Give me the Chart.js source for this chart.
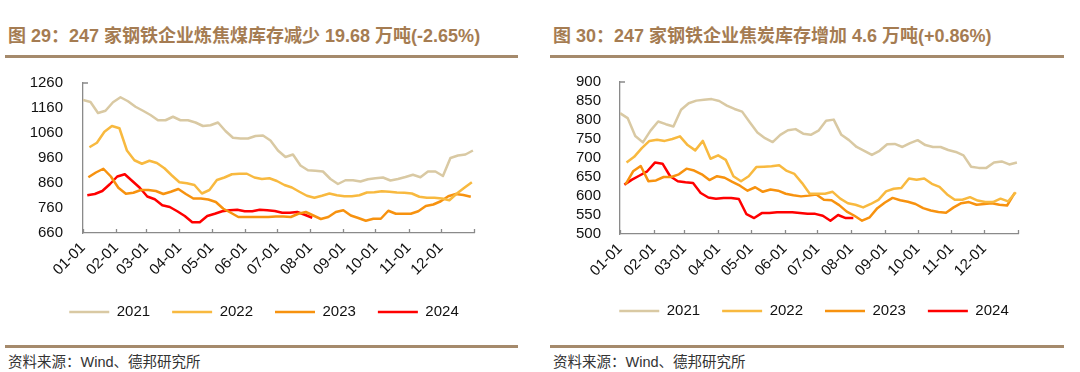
<!DOCTYPE html>
<html>
<head>
<meta charset="utf-8">
<script src="https://cdn.jsdelivr.net/npm/chart.js@4/dist/chart.umd.min.js"></script>
<style>
  body { margin: 0; width: 1080px; height: 372px; background: #fff; position: relative; overflow: hidden;
         font-family: "Liberation Sans", Arial, "Noto Sans CJK SC", sans-serif; }
  .title { position: absolute; top: 26px; font-size: 18px; line-height: 20px; font-weight: bold; color: #a57c52; white-space: nowrap; }
  .rule { position: absolute; height: 3px; background: #a58a6c; }
  .source { position: absolute; top: 353px; font-size: 14.5px; line-height: 18px; color: #333; white-space: nowrap; }
  .panel { position: absolute; top: 54px; width: 540px; height: 276px; }
</style>
</head>
<body>
<div class="title" style="left:8px">图 29：247 家钢铁企业炼焦煤库存减少 19.68 万吨(-2.65%)</div>
<div class="title" style="left:553px">图 30：247 家钢铁企业焦炭库存增加 4.6 万吨(+0.86%)</div>
<div class="rule" style="left:5px; width:513px; top:55px"></div>
<div class="rule" style="left:550px; width:514px; top:55px"></div>

<div class="panel" style="left:-6px"><canvas id="coalChart" width="540" height="276"></canvas></div>
<div class="panel" style="left:544px"><canvas id="cokeChart" width="540" height="276"></canvas></div>

<div class="rule" style="left:5px; width:513px; top:345px"></div>
<div class="rule" style="left:550px; width:514px; top:345px"></div>
<div class="source" style="left:8px">资料来源：Wind、德邦研究所</div>
<div class="source" style="left:553px">资料来源：Wind、德邦研究所</div>

<script>
// Axis categories (x = day of year, ticks at month starts)
const monthLabels = ['01-01', '02-01', '03-01', '04-01', '05-01', '06-01', '07-01', '08-01', '09-01', '10-01', '11-01', '12-01'];
const monthStartDays = [0, 31, 59, 90, 120, 151, 181, 212, 243, 273, 304, 334, 365];

// Weekly data, first Friday of each year (day of year)
const years = ['2021', '2022', '2023', '2024'];
const firstWeekDay = [0, 6, 5, 4];

// Coking coal inventory (万吨)
const coal2021 = [1192, 1184, 1140, 1149, 1183, 1203, 1187, 1165, 1149, 1132, 1111, 1111, 1125, 1111, 1111, 1102, 1088, 1091, 1102, 1068, 1041, 1038, 1038, 1048, 1050, 1030, 990, 964, 974, 930, 911, 909, 906, 876, 856, 871, 871, 866, 875, 879, 882, 870, 876, 884, 893, 883, 906, 906, 888, 960, 970, 974, 990];
const coal2022 = [1003, 1021, 1065, 1088, 1079, 990, 951, 937, 949, 940, 919, 890, 863, 859, 852, 818, 832, 872, 882, 895, 897, 897, 882, 876, 879, 868, 852, 842, 825, 809, 801, 809, 818, 811, 807, 807, 811, 822, 823, 827, 825, 822, 821, 818, 805, 801, 801, 798, 791, 818, 841, 863];
const coal2023 = [883, 902, 917, 886, 841, 817, 821, 832, 832, 828, 816, 825, 836, 816, 798, 798, 794, 784, 757, 741, 724, 724, 724, 724, 724, 726, 726, 724, 737, 744, 730, 716, 724, 744, 751, 730, 720, 709, 717, 717, 749, 737, 737, 737, 747, 768, 774, 787, 807, 816, 812, 805];
const coal2024 = [811, 816, 828, 855, 886, 895, 868, 841, 806, 795, 771, 764, 747, 728, 703, 703, 728, 737, 747, 751, 753, 747, 747, 753, 751, 748, 741, 741, 744, 733, 721];
const coalTicks = [660, 760, 860, 960, 1060, 1160, 1260];

// Coke inventory (万吨)
const coke2021 = [818, 805, 758, 741, 772, 796, 789, 783, 827, 844, 851, 853, 855, 850, 838, 829, 822, 794, 767, 752, 742, 761, 773, 776, 764, 761, 772, 798, 801, 761, 747, 729, 719, 708, 719, 736, 737, 729, 739, 747, 734, 729, 729, 721, 716, 707, 677, 674, 674, 688, 691, 683, 688];
const coke2022 = [688, 703, 726, 745, 748, 745, 750, 757, 734, 720, 745, 698, 707, 695, 652, 639, 652, 676, 677, 678, 681, 666, 658, 634, 606, 606, 606, 611, 593, 581, 577, 570, 579, 590, 612, 619, 621, 646, 643, 646, 632, 624, 604, 590, 590, 597, 588, 584, 584, 593, 586, 610];
const coke2023 = [630, 665, 679, 639, 641, 650, 650, 657, 672, 667, 657, 642, 652, 648, 637, 627, 614, 623, 611, 617, 614, 606, 602, 599, 601, 604, 590, 589, 576, 559, 548, 535, 544, 568, 583, 595, 589, 585, 579, 568, 562, 558, 556, 570, 581, 584, 577, 579, 581, 577, 575, 608];
const coke2024 = [630, 643, 654, 665, 688, 685, 652, 639, 636, 634, 608, 596, 593, 595, 595, 592, 552, 542, 555, 555, 557, 557, 557, 555, 553, 553, 548, 535, 550, 542, 542];
const cokeTicks = [500, 550, 600, 650, 700, 750, 800, 850, 900];

// Styles
const lineColors = ['#d9c9a3', '#f8b93f', '#f7920f', '#ff0000'];
const axisColor = '#8a8a8a';
const textColor = '#111';
const fontFamily = '"Liberation Sans", Arial, sans-serif';

// Inner tick marks (x month ticks point up, single top tick on y)
const innerTicks = {
    id: 'innerTicks',
    afterDraw(chart) {
        const { ctx, chartArea, scales } = chart;
        ctx.save();
        ctx.strokeStyle = axisColor;
        ctx.lineWidth = 1.3;
        ctx.beginPath();
        monthStartDays.forEach(d => {
            const px = Math.round(scales.x.getPixelForValue(d)) + 0.5;
            ctx.moveTo(px, chartArea.bottom);
            ctx.lineTo(px, chartArea.bottom - 4);
        });
        ctx.moveTo(chartArea.left, chartArea.top);
        ctx.lineTo(chartArea.left + 5, chartArea.top);
        ctx.stroke();
        ctx.restore();
    }
};

function toPoints(yearIndex, values) {
    return values.map((v, i) => ({ x: firstWeekDay[yearIndex] + 7 * i, y: v }));
}

function makeChart(canvasId, seriesList, yTicks, layout) {
    const ctx = document.getElementById(canvasId).getContext('2d');
    return new Chart(ctx, {
        type: 'line',
        data: {
            datasets: seriesList.map((values, i) => ({
                label: years[i],
                data: toPoints(i, values),
                borderColor: lineColors[i],
                backgroundColor: lineColors[i],
                borderWidth: 2.5,
                borderJoinStyle: 'round',
                pointRadius: 0,
                tension: 0,
                fill: false
            }))
        },
        options: {
            responsive: false,
            animation: false,
            // top space comes from the y labels' own padding (half label + tick padding)
            layout: { padding: { left: 0, right: 0, top: 0, bottom: layout.bottom } },
            plugins: {
                legend: {
                    position: 'bottom',
                    labels: {
                        usePointStyle: true,
                        pointStyle: 'line',
                        pointStyleWidth: 40,
                        padding: 22,
                        color: textColor,
                        font: { size: 15, family: fontFamily }
                    }
                },
                tooltip: { enabled: false }
            },
            scales: {
                x: {
                    type: 'linear',
                    min: 0,
                    max: 365,
                    afterBuildTicks: scale => { scale.ticks = monthStartDays.map(v => ({ value: v })); },
                    afterFit: scale => { scale.height = layout.xHeight; },
                    grid: { display: false, drawTicks: false },
                    border: { color: axisColor, width: 1.3 },
                    ticks: {
                        autoSkip: false,
                        minRotation: 45,
                        maxRotation: 45,
                        padding: 6,
                        color: textColor,
                        font: { size: 15, family: fontFamily },
                        callback: (value, index) => monthLabels[index] || ''
                    }
                },
                y: {
                    min: yTicks[0],
                    max: yTicks[yTicks.length - 1],
                    afterBuildTicks: scale => { scale.ticks = yTicks.map(v => ({ value: v })); },
                    afterFit: scale => { scale.width = layout.yWidth; },
                    grid: { display: false, drawTicks: false },
                    border: { color: axisColor, width: 1.3 },
                    ticks: {
                        autoSkip: false,
                        padding: layout.yPad,
                        color: textColor,
                        font: { size: 15, family: fontFamily },
                        callback: value => String(value)
                    }
                },
                // empty right-hand axis, only keeps space on the right of the plot
                spacer: {
                    position: 'right',
                    afterFit: scale => { scale.width = layout.rightWidth; },
                    grid: { display: false, drawTicks: false },
                    border: { display: false },
                    ticks: { display: false }
                }
            }
        },
        plugins: [innerTicks]
    });
}

// Initialization
makeChart('coalChart', [coal2021, coal2022, coal2023, coal2024], coalTicks, {
    bottom: 0.5, yWidth: 89, yPad: 20, rightWidth: 60, xHeight: 49.5
});

makeChart('cokeChart', [coke2021, coke2022, coke2023, coke2024], cokeTicks, {
    bottom: 1.5, yWidth: 76, yPad: 19, rightWidth: 66, xHeight: 47.5
});
</script>
</body>
</html>
